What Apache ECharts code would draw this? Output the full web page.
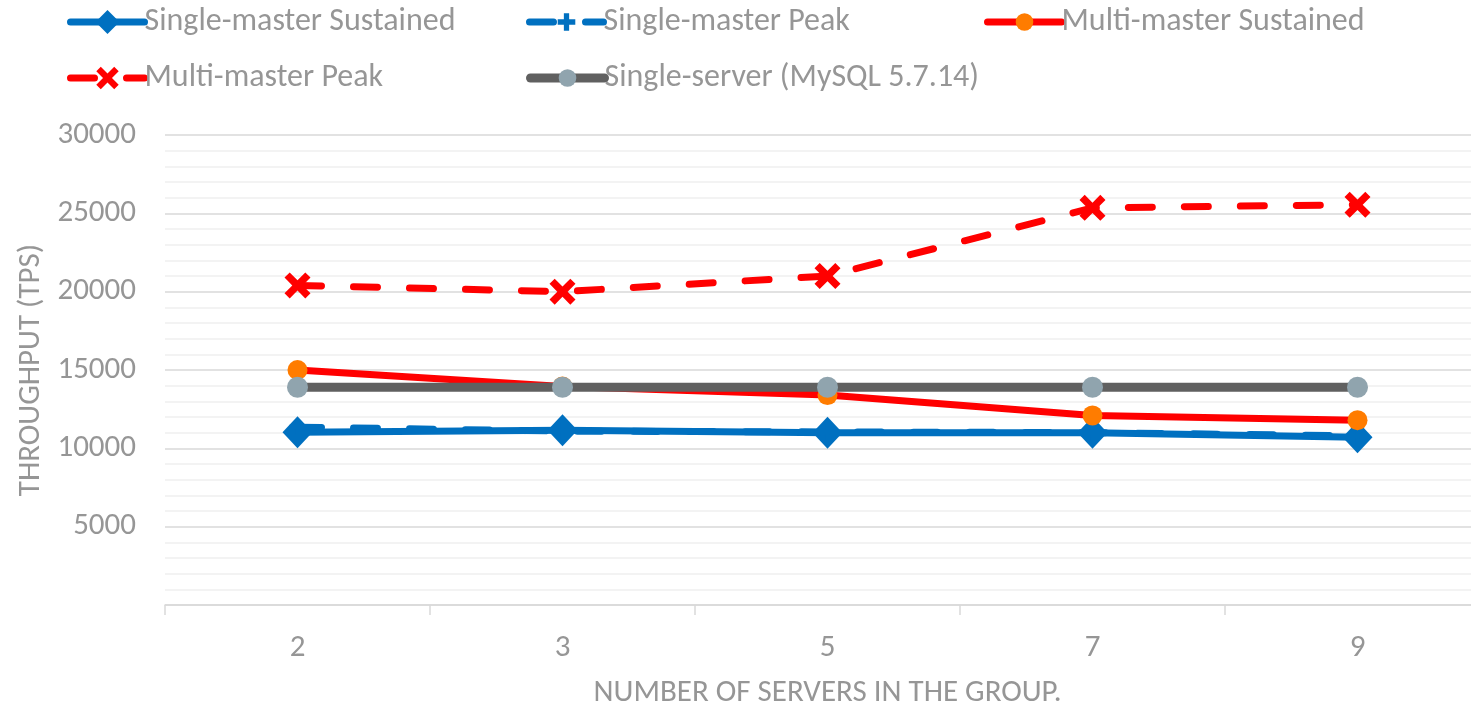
<!DOCTYPE html>
<html>
<head>
<meta charset="utf-8">
<script src="https://cdn.jsdelivr.net/npm/echarts@6/dist/echarts.min.js"></script>
<style>
  html, body { margin: 0; padding: 0; background: #fff; }
  #chart { width: 1471px; height: 704px; }
</style>
</head>
<body>
<div id="chart"></div>
<script>
// Group sizes on the x axis
const groupSizes = ['2', '3', '5', '7', '9'];

// Throughput (transactions per second) per configuration
const singleMasterSustained = [11020, 11150, 11000, 11000, 10700];
const singleMasterPeak      = [11350, 11100, 11050, 11000, 10800];
const multiMasterSustained  = [15000, 13950, 13400, 12100, 11800];
const multiMasterPeak       = [20400, 20000, 21000, 25350, 25550];
const singleServer          = [13900, 13900, 13900, 13900, 13900];

const seriesNames = [
  'Single-master Sustained',
  'Single-master Peak',
  'Multi-master Sustained',
  'Multi-master Peak',
  'Single-server (MySQL 5.7.14)'
];

const FONT = 'Carlito, Lato, sans-serif';
const FONT_SIZE = 31;
const LEGEND_FONT_SIZE = 32;
const GREY_TEXT = '#969696';
const DASH = [24, 32];

const crossPath = 'path://M2,0 L5,3 L8,0 L10,2 L7,5 L10,8 L8,10 L5,7 L2,10 L0,8 L3,5 L0,2 Z';
const plusPath = 'path://M3.5,0 L6.5,0 L6.5,3.5 L10,3.5 L10,6.5 L6.5,6.5 L6.5,10 L3.5,10 L3.5,6.5 L0,6.5 L0,3.5 L3.5,3.5 Z';

const chart = echarts.init(document.getElementById('chart'), null, { renderer: 'canvas' });

// one legend block per entry so each sits in its own fixed column
const legendSlots = [
  { left: 67, cy: 22, h: 30, w: 7 },
  { left: 526, cy: 22, h: 22, w: 7 },
  { left: 984, cy: 22, h: 22, w: 7 },
  { left: 67, cy: 78, h: 28, w: 7 },
  { left: 526, cy: 78, h: 22, w: 9 }
];
const legends = seriesNames.map((name, i) => {
  const s = legendSlots[i];
  return {
    data: [name],
    left: s.left,
    top: s.cy - Math.max(s.h, LEGEND_FONT_SIZE) / 2,
    itemWidth: 74,
    itemHeight: s.h,
    itemGap: 0,
    padding: 0,
    selectedMode: false,
    lineStyle: { width: s.w, cap: 'round' },
    textStyle: { fontFamily: FONT, fontSize: LEGEND_FONT_SIZE, color: GREY_TEXT, padding: [0, 0, 0, -5] }
  };
});

const option = {
  animation: false,
  backgroundColor: '#ffffff',
  legend: legends,
  grid: {
    left: 165, right: -19, top: 135, bottom: 99,
    containLabel: false,
    outerBoundsMode: 'none'
  },
  xAxis: {
    type: 'category',
    data: groupSizes,
    boundaryGap: true,
    name: 'NUMBER OF SERVERS IN THE GROUP.',
    nameLocation: 'middle',
    nameGap: 73,
    nameTextStyle: { fontFamily: FONT, fontSize: FONT_SIZE, color: GREY_TEXT },
    axisLine: { show: true, lineStyle: { color: '#d9d9d9', width: 1.5 } },
    axisTick: { show: true, alignWithLabel: false, length: 10, lineStyle: { color: '#d9d9d9', width: 1.5 } },
    axisLabel: { fontFamily: FONT, fontSize: FONT_SIZE, color: GREY_TEXT, margin: 28 }
  },
  yAxis: {
    type: 'value',
    min: 0,
    max: 30000,
    interval: 5000,
    name: 'THROUGHPUT (TPS)',
    nameLocation: 'middle',
    nameGap: 118,
    nameTextStyle: { fontFamily: FONT, fontSize: FONT_SIZE, color: GREY_TEXT },
    axisLine: { show: false },
    axisTick: { show: false },
    axisLabel: {
      fontFamily: FONT, fontSize: FONT_SIZE, color: GREY_TEXT, margin: 29,
      formatter: v => (v === 0 ? '' : String(v))
    },
    splitLine: { show: true, lineStyle: { color: '#d9d9d9', width: 1.5 } },
    minorTick: { show: false, splitNumber: 5 },
    minorSplitLine: { show: true, lineStyle: { color: '#efefef', width: 1.5 } }
  },
  series: [
    {
      name: seriesNames[0],
      type: 'line',
      data: singleMasterSustained,
      symbol: 'diamond',
      symbolSize: [30, 32],
      lineStyle: { color: '#0070C0', width: 7, cap: 'round', join: 'round' },
      itemStyle: { color: '#0070C0' },
      z: 2
    },
    {
      name: seriesNames[1],
      type: 'line',
      data: singleMasterPeak,
      symbol: plusPath,
      symbolSize: 16,
      lineStyle: { color: '#0070C0', width: 7, type: DASH, cap: 'round', join: 'round' },
      itemStyle: { color: '#0070C0' },
      z: 3
    },
    {
      name: seriesNames[2],
      type: 'line',
      data: multiMasterSustained,
      symbol: 'circle',
      symbolSize: 20,
      lineStyle: { color: '#FF0000', width: 7, cap: 'round', join: 'round' },
      itemStyle: { color: '#FF7C00' },
      z: 4
    },
    {
      name: seriesNames[3],
      type: 'line',
      data: multiMasterPeak,
      symbol: crossPath,
      symbolSize: 26,
      lineStyle: { color: '#FF0000', width: 7, type: DASH, cap: 'round', join: 'round' },
      itemStyle: { color: '#FF0000' },
      z: 5
    },
    {
      name: seriesNames[4],
      type: 'line',
      data: singleServer,
      symbol: 'circle',
      symbolSize: 21,
      lineStyle: { color: '#606060', width: 9, cap: 'round', join: 'round' },
      itemStyle: { color: '#90A4AE' },
      z: 6
    }
  ]
};

chart.setOption(option);
</script>
</body>
</html>
